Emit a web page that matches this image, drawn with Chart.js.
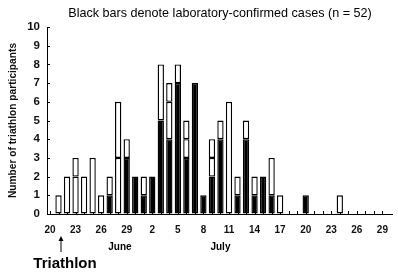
<!DOCTYPE html>
<html>
<head>
<meta charset="utf-8">
<script src="https://cdn.jsdelivr.net/npm/chart.js@4"></script>
<style>
  html, body { margin: 0; padding: 0; background: #fff; }
  #wrap { width: 398px; height: 275px; }
</style>
</head>
<body>
<div id="wrap"><canvas id="c" width="398" height="275"></canvas></div>
<script>
/* ---------- Data (June 20 -> July 29, one entry per day) ---------- */
const dayLabels = [
  "20", "21", "22", "23", "24", "25", "26", "27", "28", "29", "30",
  "1", "2", "3", "4", "5", "6", "7", "8", "9", "10",
  "11", "12", "13", "14", "15", "16", "17", "18", "19", "20",
  "21", "22", "23", "24", "25", "26", "27", "28", "29"
];
// lab-confirmed cases (black)
const confirmed = [
  0, 0, 0, 0, 0, 0, 0, 1, 0, 3, 2,
  1, 2, 5, 4, 7, 3, 7, 1, 2, 4,
  0, 1, 4, 1, 2, 1, 0, 0, 0, 1,
  0, 0, 0, 0, 0, 0, 0, 0, 0
];
// other cases, lower white block
const otherA = [
  0, 1, 2, 2, 2, 3, 1, 1, 3, 1, 0,
  1, 0, 3, 2, 1, 1, 0, 0, 1, 1,
  6, 1, 1, 1, 0, 2, 1, 0, 0, 0,
  0, 0, 0, 1, 0, 0, 0, 0, 0
];
// other cases, upper white block
const otherB = [
  0, 0, 0, 1, 0, 0, 0, 0, 3, 0, 0,
  0, 0, 0, 1, 0, 1, 0, 0, 1, 0,
  0, 0, 0, 0, 0, 0, 0, 0, 0, 0,
  0, 0, 0, 0, 0, 0, 0, 0, 0
];
const xTickDays = [0, 3, 6, 9, 12, 15, 18, 21, 24, 27, 30, 33, 36, 39];
const yTicks = [0, 1, 2, 3, 4, 5, 6, 7, 8, 9, 10];

const FONT = "'Liberation Sans', Arial, Helvetica, sans-serif";

function pts(arr) {
  return arr.map((v, i) => ({ x: i, y: v === 0 ? null : v }));
}

function barStyle(fill) {
  return {
    backgroundColor: fill,
    borderColor: "#000",
    borderWidth: 1.4,
    borderSkipped: false,
    barPercentage: 0.74,
    categoryPercentage: 1,
  };
}

/* ---------- Annotations: inward ticks, title, months, arrow ---------- */
const annot = {
  id: "annot",
  beforeDatasetsDraw(chart) {
    const { ctx, chartArea: a, scales: { x, y } } = chart;
    ctx.save();
    ctx.strokeStyle = "#000";
    ctx.lineWidth = 1;
    dayLabels.forEach((_, i) => {
      const px = Math.round(x.getPixelForValue(i)) + 0.5;
      ctx.beginPath();
      ctx.moveTo(px, a.bottom);
      ctx.lineTo(px, a.bottom - 3);
      ctx.stroke();
    });
    yTicks.forEach((v) => {
      const py = Math.round(y.getPixelForValue(v)) + 0.5;
      ctx.beginPath();
      ctx.moveTo(a.left, py);
      ctx.lineTo(a.left + 3, py);
      ctx.stroke();
    });
    ctx.restore();
  },
  afterDraw(chart) {
    const { ctx, chartArea: a, scales: { x } } = chart;
    ctx.save();
    ctx.fillStyle = "#000";
    ctx.textBaseline = "middle";
    ctx.textAlign = "center";

    ctx.font = "12.6px " + FONT;
    ctx.fillText("Black bars denote laboratory-confirmed cases (n = 52)", 220, 14);

    ctx.font = "bold 10px " + FONT;
    ctx.fillText("June", x.getPixelForValue(8.2), 247);
    ctx.fillText("July", x.getPixelForValue(20), 247);

    // arrow under June 21
    const ax = x.getPixelForValue(1) + 2.5;
    ctx.strokeStyle = "#000";
    ctx.lineWidth = 1;
    ctx.beginPath();
    ctx.moveTo(ax, 239);
    ctx.lineTo(ax, 252);
    ctx.stroke();
    ctx.beginPath();
    ctx.moveTo(ax, 236);
    ctx.lineTo(ax - 2.5, 241);
    ctx.lineTo(ax + 2.5, 241);
    ctx.closePath();
    ctx.fill();

    ctx.font = "bold 15px " + FONT;
    ctx.fillText("Triathlon", 65, 264);
    ctx.restore();
  },
};

new Chart(document.getElementById("c"), {
  type: "bar",
  data: {
    datasets: [
      { label: "Confirmed", data: pts(confirmed), ...barStyle("#000") },
      { label: "Other", data: pts(otherA), ...barStyle("#fff") },
      { label: "Other ", data: pts(otherB), ...barStyle("#fff") },
    ],
  },
  options: {
    responsive: false,
    animation: false,
    layout: { padding: { top: 27, right: 1, left: 0, bottom: 0 } },
    plugins: { legend: { display: false }, tooltip: { enabled: false }, title: { display: false } },
    scales: {
      x: {
        type: "linear",
        stacked: true,
        offset: false,
        min: -0.35,
        max: 40.15,
        afterBuildTicks: (s) => { s.ticks = xTickDays.map((v) => ({ value: v })); },
        afterFit: (s) => { s.height = 61; },
        ticks: {
          autoSkip: false,
          maxRotation: 0,
          padding: 10,
          color: "#111",
          font: { family: FONT, size: 10, weight: "bold" },
          callback: (v) => dayLabels[v],
        },
        grid: { display: true, drawOnChartArea: false, drawTicks: false },
        border: { display: true, color: "#000", width: 1 },
      },
      y: {
        stacked: true,
        min: 0,
        max: 10,
        afterFit: (s) => { s.width = 47; },
        ticks: {
          stepSize: 1,
          padding: 7,
          color: "#111",
          font: { family: FONT, size: 11.5, weight: "bold" },
        },
        grid: { display: true, drawOnChartArea: false, drawTicks: false },
        border: { display: true, color: "#000", width: 1 },
        title: {
          display: true,
          text: "Number of triathlon participants",
          color: "#111",
          font: { family: FONT, size: 10.2, weight: "bold" },
          padding: { top: 7, bottom: 0 },
        },
      },
    },
  },
  plugins: [annot],
});
</script>
</body>
</html>
